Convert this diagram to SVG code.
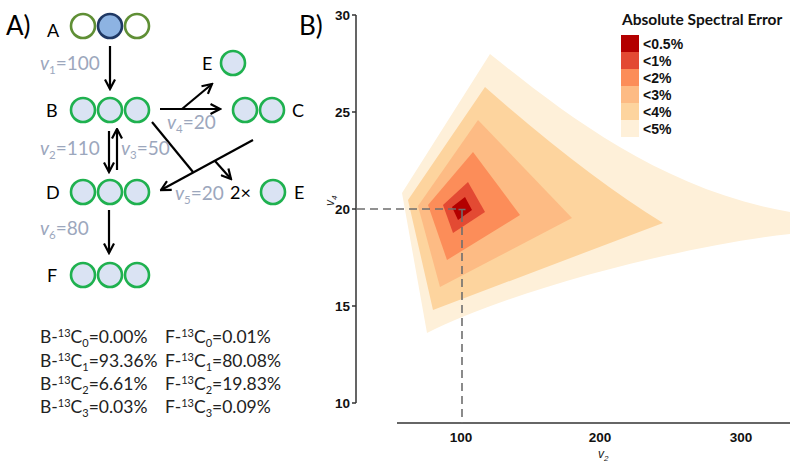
<svg xmlns="http://www.w3.org/2000/svg" width="800" height="468" viewBox="0 0 800 468">
<style>
.lbl{font-family:Lato,"Open Sans","Liberation Sans",sans-serif;font-size:18px;fill:#000}
.big{font-family:Lato,"Open Sans","Liberation Sans",sans-serif;font-size:26px;fill:#000}
.flux{font-family:Lato,"Open Sans","Liberation Sans",sans-serif;font-size:19px;fill:#9ca7bd}
.iso{font-family:Lato,"Open Sans","Liberation Sans",sans-serif;font-size:17.5px;fill:#222}
.c{fill:#dae3f3;stroke:#1fb14f;stroke-width:2.6}
.co{fill:#fff;stroke:#5f8f35;stroke-width:2.6}
.cb{fill:#8db3e2;stroke:#1f3864;stroke-width:2.6}
.arr{stroke:#000;stroke-width:2.2;fill:none;marker-end:url(#ah)}
.ln{stroke:#000;stroke-width:2.2;fill:none}
.tick{font-family:"Liberation Sans",Arial,sans-serif;font-size:13.5px;font-weight:bold;fill:#111}
.ax{stroke:#333;stroke-width:1.5;fill:none}
.dash{stroke:#6e6e6e;stroke-width:1.6;stroke-dasharray:8 5;fill:none}
.leg{font-family:"Liberation Sans",Arial,sans-serif;font-size:14px;font-weight:bold;fill:#111}
</style>
<defs>
<marker id="ah" markerUnits="userSpaceOnUse" viewBox="0 0 12 12" markerWidth="12" markerHeight="12" refX="10.5" refY="6" orient="auto">
<path d="M1,1 L10.5,6 L1,11" fill="none" stroke="#000" stroke-width="2.2"/>
</marker>
</defs>
<rect width="800" height="468" fill="#fff"/>

<!-- Panel A -->
<text class="big" x="6" y="35">A)</text>

<g id="connectors">
<line class="arr" x1="110" y1="46" x2="110" y2="89"/>
<line class="arr" x1="160" y1="109" x2="220" y2="109"/>
<line class="arr" x1="182" y1="109" x2="212" y2="84"/>
<line class="arr" x1="109" y1="131" x2="109" y2="172"/>
<line class="arr" x1="117" y1="170" x2="117" y2="129"/>
<line class="ln" x1="152" y1="122" x2="193" y2="172"/>
<line class="arr" x1="253" y1="140" x2="161" y2="190"/>
<line class="arr" x1="215" y1="161" x2="231" y2="179"/>
<line class="arr" x1="109" y1="210" x2="109" y2="253"/>
</g>

<g id="nodeA">
<text class="lbl" x="47" y="37">A</text>
<circle class="co" cx="83" cy="26" r="12"/>
<circle class="cb" cx="110" cy="26" r="12"/>
<circle class="co" cx="137" cy="26" r="12"/>
</g>
<g id="nodeB">
<text class="lbl" x="46" y="117">B</text>
<circle class="c" cx="83" cy="110" r="12"/>
<circle class="c" cx="110" cy="110" r="12"/>
<circle class="c" cx="137" cy="110" r="12"/>
</g>
<g id="nodeE1">
<text class="lbl" x="202" y="70">E</text>
<circle class="c" cx="233" cy="63" r="12"/>
</g>
<g id="nodeC">
<circle class="c" cx="245" cy="110" r="12"/>
<circle class="c" cx="272" cy="110" r="12"/>
<text class="lbl" x="292" y="117">C</text>
</g>
<g id="nodeD">
<text class="lbl" x="46" y="199">D</text>
<circle class="c" cx="83" cy="192" r="12"/>
<circle class="c" cx="110" cy="192" r="12"/>
<circle class="c" cx="137" cy="192" r="12"/>
</g>
<g id="nodeE2">
<text class="lbl" x="230" y="199">2×</text>
<circle class="c" cx="273" cy="192" r="12"/>
<text class="lbl" x="294" y="199">E</text>
</g>
<g id="nodeF">
<text class="lbl" x="47" y="282">F</text>
<circle class="c" cx="83" cy="275" r="12"/>
<circle class="c" cx="110" cy="275" r="12"/>
<circle class="c" cx="137" cy="275" r="12"/>
</g>

<g id="fluxes">
<text class="flux" x="40" y="70"><tspan font-style="italic">v</tspan><tspan font-size="11.5" dy="4">1</tspan><tspan dy="-4">=100</tspan></text>
<text class="flux" x="167" y="129"><tspan font-style="italic">v</tspan><tspan font-size="11.5" dy="4">4</tspan><tspan dy="-4">=20</tspan></text>
<text class="flux" x="40" y="155"><tspan font-style="italic">v</tspan><tspan font-size="11.5" dy="4">2</tspan><tspan dy="-4">=110</tspan></text>
<text class="flux" x="121" y="155"><tspan font-style="italic">v</tspan><tspan font-size="11.5" dy="4">3</tspan><tspan dy="-4">=50</tspan></text>
<text class="flux" x="175" y="200"><tspan font-style="italic">v</tspan><tspan font-size="11.5" dy="4">5</tspan><tspan dy="-4">=20</tspan></text>
<text class="flux" x="40" y="235"><tspan font-style="italic">v</tspan><tspan font-size="11.5" dy="4">6</tspan><tspan dy="-4">=80</tspan></text>
</g>

<g id="isotopomers">
<text class="iso" x="40" y="343">B-<tspan font-size="11" dy="-6">13</tspan><tspan dy="6">C</tspan><tspan font-size="11" dy="4">0</tspan><tspan dy="-4">=0.00%</tspan></text>
<text class="iso" x="40" y="367">B-<tspan font-size="11" dy="-6">13</tspan><tspan dy="6">C</tspan><tspan font-size="11" dy="4">1</tspan><tspan dy="-4">=93.36%</tspan></text>
<text class="iso" x="40" y="390">B-<tspan font-size="11" dy="-6">13</tspan><tspan dy="6">C</tspan><tspan font-size="11" dy="4">2</tspan><tspan dy="-4">=6.61%</tspan></text>
<text class="iso" x="40" y="413">B-<tspan font-size="11" dy="-6">13</tspan><tspan dy="6">C</tspan><tspan font-size="11" dy="4">3</tspan><tspan dy="-4">=0.03%</tspan></text>
<text class="iso" x="165" y="343">F-<tspan font-size="11" dy="-6">13</tspan><tspan dy="6">C</tspan><tspan font-size="11" dy="4">0</tspan><tspan dy="-4">=0.01%</tspan></text>
<text class="iso" x="165" y="367">F-<tspan font-size="11" dy="-6">13</tspan><tspan dy="6">C</tspan><tspan font-size="11" dy="4">1</tspan><tspan dy="-4">=80.08%</tspan></text>
<text class="iso" x="165" y="390">F-<tspan font-size="11" dy="-6">13</tspan><tspan dy="6">C</tspan><tspan font-size="11" dy="4">2</tspan><tspan dy="-4">=19.83%</tspan></text>
<text class="iso" x="165" y="413">F-<tspan font-size="11" dy="-6">13</tspan><tspan dy="6">C</tspan><tspan font-size="11" dy="4">3</tspan><tspan dy="-4">=0.09%</tspan></text>
</g>

<!-- Panel B -->
<text class="big" x="299" y="35">B)</text>

<g id="contours">
<path fill="#fef0d9" d="M490,54 C560,110 660,190 790,212 L790,234 C690,244 510,290 427,333 L402,193 Z"/>
<path fill="#fdd49e" d="M485,87 Q585,175 663,223 L433,310 L408,200 Z"/>
<path fill="#fdbb84" d="M478,120 L572,218 L440,287 L418,206 Z"/>
<path fill="#fc8d59" d="M473,152 L520,215 L447,260 L428,205 Z"/>
<path fill="#e34a33" d="M468,182 L485,212 L453,233 L443,205 Z"/>
<path fill="#b30000" d="M465,197 L472,210 L458,220 L452,207 Z"/>
</g>

<g id="axes">
<path class="ax" d="M356,15 V403 M352,15 H356 M352,112 H356 M352,209 H356 M352,306 H356 M352,403 H356"/>
<path class="ax" d="M397,423 H790"/>
<text class="tick" x="350" y="20" text-anchor="end">30</text>
<text class="tick" x="350" y="117" text-anchor="end">25</text>
<text class="tick" x="350" y="214" text-anchor="end">20</text>
<text class="tick" x="350" y="311" text-anchor="end">15</text>
<text class="tick" x="350" y="408" text-anchor="end">10</text>
<text class="tick" x="461" y="442" text-anchor="middle">100</text>
<text class="tick" x="600" y="442" text-anchor="middle">200</text>
<text class="tick" x="741" y="442" text-anchor="middle">300</text>
<text font-family="Liberation Sans,Arial,sans-serif" font-size="12" font-style="italic" fill="#222" x="598" y="458">v<tspan font-size="8" dy="3">2</tspan></text>
<text font-family="Liberation Sans,Arial,sans-serif" font-size="12" font-style="italic" fill="#222" transform="translate(334,206) rotate(-90)">v<tspan font-size="8" dy="3">4</tspan></text>
</g>

<g id="reference-lines">
<path class="dash" d="M357,209 H456"/>
<path class="dash" d="M462,214 V423"/>
<path stroke="#6e6e6e" stroke-width="1.6" fill="none" d="M458.5,209.5 H465.5 M462,209.5 V214"/>
</g>

<g id="legend">
<text font-family="Lato,'Open Sans','Liberation Sans',sans-serif" font-size="15.5" font-weight="bold" fill="#111" x="622" y="25">Absolute Spectral Error</text>
<rect x="621" y="35" width="18" height="17" fill="#b30000"/>
<rect x="621" y="52" width="18" height="17" fill="#e34a33"/>
<rect x="621" y="69" width="18" height="17" fill="#fc8d59"/>
<rect x="621" y="86" width="18" height="17" fill="#fdbb84"/>
<rect x="621" y="103" width="18" height="17" fill="#fdd49e"/>
<rect x="621" y="120" width="18" height="17" fill="#fef0d9"/>
<text class="leg" x="643" y="49">&lt;0.5%</text>
<text class="leg" x="643" y="66">&lt;1%</text>
<text class="leg" x="643" y="83">&lt;2%</text>
<text class="leg" x="643" y="100">&lt;3%</text>
<text class="leg" x="643" y="117">&lt;4%</text>
<text class="leg" x="643" y="134">&lt;5%</text>
</g>
</svg>
